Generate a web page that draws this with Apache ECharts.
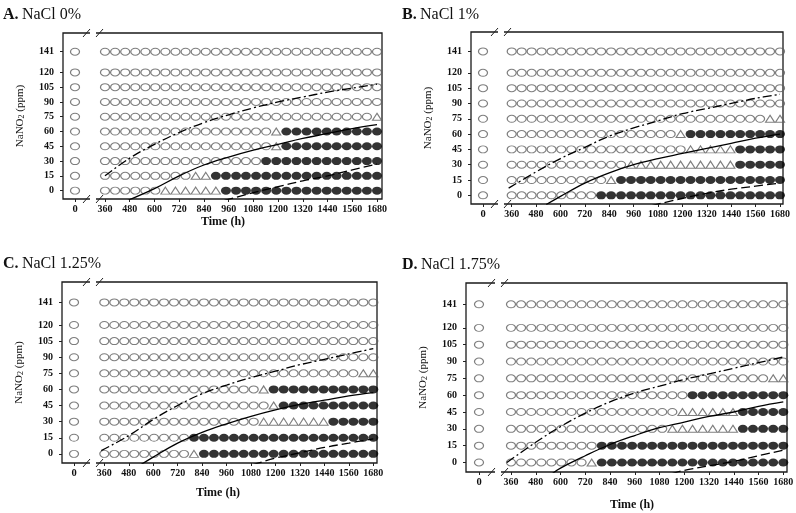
<!DOCTYPE html>
<html><head><meta charset="utf-8">
<script src="https://cdn.jsdelivr.net/npm/echarts@6/dist/echarts.min.js"></script>
<style>html,body{margin:0;padding:0;background:#fff}#c{width:796px;height:513px}</style>
</head><body><div id="c"></div>
<script>
// ---------------- DATA ----------------
// sampling times after the axis break (h)
const timePoints = [360, 409, 458, 507, 556, 604, 653, 702, 751, 800, 849, 898, 947, 996, 1044, 1093, 1142, 1191, 1240, 1289, 1338, 1387, 1436, 1484, 1533, 1582, 1631, 1680];
const startTime = 0; // the column before the break
const nitriteLevels = [0, 15, 30, 45, 60, 75, 90, 105, 120, 141];
const xTickLabels = [360, 480, 600, 720, 840, 960, 1080, 1200, 1320, 1440, 1560, 1680];
const yTickLabels = [0, 15, 30, 45, 60, 75, 90, 105, 120, 141];

// growth status along timePoints for each nitrite level (runs: o = no growth, t = doubtful, f = growth)
const growthA = ['o6 t6 f16', 'o9 t2 f17', 'o16 f12', 'o17 t1 f10', 'o17 t1 f10', 'o27 t1', 'o28', 'o28', 'o28', 'o28'];
const growthB = ['o9 f19', 'o10 t1 f17', 'o12 t11 f5', 'o18 t5 f5', 'o17 t1 f10', 'o26 t2', 'o28', 'o28', 'o28', 'o28'];
const growthC = ['o9 t1 f18', 'o9 f19', 'o16 t7 f5', 'o17 t1 f10', 'o16 t1 f11', 'o26 t2', 'o28', 'o28', 'o28', 'o28'];
const growthD = ['o8 t1 f19', 'o9 f19', 'o16 t7 f5', 'o17 t6 f5', 'o18 f10', 'o26 t2', 'o28', 'o28', 'o28', 'o28'];

// boundary curves [time, ppm]
const dashDotA = [[360,15],[480,33],[600,47],[720,59],[840,69],[960,77],[1080,84],[1200,90],[1320,95],[1440,100],[1560,104],[1680,108]];
const solidA   = [[470,-10],[600,2],[720,15],[840,26],[960,34],[1080,41],[1200,47],[1320,53],[1440,58],[1560,63],[1680,67]];
const dashedA  = [[940,-10],[1080,-2],[1200,4],[1320,10],[1440,15],[1560,21],[1680,27]];

const dashDotB = [[345,7],[480,23],[600,36],[720,47],[840,58],[960,66],[1080,73],[1200,80],[1320,85],[1440,90],[1560,95],[1680,99]];
const solidB   = [[530,-9],[600,-1],[720,12],[840,22],[960,30],[1080,36],[1200,41],[1320,46],[1440,51],[1560,56],[1680,60]];
const dashedB  = [[1050,-10],[1200,-3],[1320,2],[1440,6],[1560,9],[1680,12]];

const dashDotC = [[345,3],[480,17],[600,32],[720,45],[840,56],[960,64],[1080,71],[1200,77],[1320,83],[1440,88],[1560,93],[1680,98]];
const solidC   = [[540,-10],[600,-3],[720,10],[840,20],[960,28],[1080,35],[1200,41],[1320,46],[1440,50],[1560,54],[1680,57]];
const dashedC  = [[1090,-10],[1200,-4],[1320,1],[1440,6],[1560,10],[1680,14]];

const dashDotD = [[340,0],[480,18],[600,32],[720,44],[840,54],[960,62],[1080,68],[1200,74],[1320,79],[1440,84],[1560,89],[1680,94]];
const solidD   = [[560,-10],[600,-5],[720,6],[840,16],[960,24],[1080,31],[1200,36],[1320,41],[1440,45],[1560,50],[1680,54]];
const dashedD  = [[1140,-10],[1200,-7],[1320,-3],[1440,1],[1560,6],[1680,11]];

const panelLetters = ['A.', 'B.', 'C.', 'D.'];
const panelNames = ['NaCl 0%', 'NaCl 1%', 'NaCl 1.25%', 'NaCl 1.75%'];
const yName = ['NaNO', '2', ' (ppm)'];
const xName = 'Time (h)';

// ---------------- LAYOUT / STYLE ----------------
const SERIF = "'Liberation Serif','Times New Roman',serif";
const Y_MIN = -8.5, Y_MAX = 160;
const layout = [
  {l:63,  r:382, t:33,  b:199, brk:93,  x0:75,  p360:105,   p1680:377,   title:[3,7],   time:[223,222], showTime:true},
  {l:471, r:783, t:32,  b:204, brk:501, x0:483, p360:511.7, p1680:780,   title:[402,7], time:[627,228], showTime:false},
  {l:62,  r:377, t:282, b:463, brk:93,  x0:74,  p360:104.3, p1680:373.3, title:[3,256], time:[218,493], showTime:true},
  {l:466, r:787, t:283, b:472, brk:498, x0:479, p360:511,   p1680:783.3, title:[402,257],time:[632,505], showTime:true}
];
const growthSets = [growthA, growthB, growthC, growthD];
const curveSets = [[dashDotA, solidA, dashedA], [dashDotB, solidB, dashedB], [dashDotC, solidC, dashedC], [dashDotD, solidD, dashedD]];

function expandRuns(s) {
  const out = [];
  s.split(' ').forEach(tok => { const k = tok[0], n = +tok.slice(1); for (let i = 0; i < n; i++) out.push(k); });
  return out;
}

const openStyle = {color: 'rgba(255,255,255,0)', borderColor: '#5e5e5e', borderWidth: 1.1};
const grids = [], xAxes = [], yAxes = [], series = [], graphics = [];
const labelStyle = {fontFamily: SERIF, fontWeight: 'bold', color: '#111', formatter: v => String(v)};
const noLine = {show: false, onZero: false};

layout.forEach((P, p) => {
  const g = grids.length;
  const H = P.b - P.t;
  grids.push({left: P.l, top: P.t, width: P.r - P.l, height: H, show: true, borderColor: '#1a1a1a', borderWidth: 1.3, backgroundColor: 'rgba(0,0,0,0)', outerBoundsMode: 'none'});
  grids.push({left: P.l, top: P.t, width: P.brk - P.l, height: H, outerBoundsMode: 'none'});
  grids.push({left: P.brk, top: P.t, width: P.r - P.brk, height: H, outerBoundsMode: 'none'});
  xAxes.push({gridIndex: g, type: 'value', show: false, min: 0, max: 1, axisLine: noLine});
  yAxes.push({gridIndex: g, type: 'value', show: false, min: 0, max: 1, axisLine: noLine});
  // left (time 0) section
  xAxes.push({gridIndex: g + 1, type: 'value', position: 'bottom', min: -(P.x0 - P.l), max: P.brk - P.x0,
    axisLine: noLine, splitLine: {show: false},
    axisTick: {show: true, customValues: [startTime], length: 3, lineStyle: {color: '#222'}},
    axisLabel: Object.assign({customValues: [startTime], margin: 5, fontSize: 10.5}, labelStyle)});
  yAxes.push({gridIndex: g + 1, type: 'value', position: 'left', min: Y_MIN, max: Y_MAX,
    axisLine: noLine, splitLine: {show: false},
    axisTick: {show: true, customValues: yTickLabels, length: 3, lineStyle: {color: '#222'}},
    axisLabel: Object.assign({customValues: yTickLabels, margin: 9, fontSize: 10}, labelStyle),
    name: '{n|' + yName[0] + '}{s|' + yName[1] + '}{n|' + yName[2] + '}', nameLocation: 'middle', nameGap: 37,
    nameTextStyle: {rich: {n: {fontFamily: SERIF, fontSize: 11, color: '#111'}, s: {fontFamily: SERIF, fontSize: 8, color: '#111', verticalAlign: 'bottom', lineHeight: 10}}}});
  // main section
  const s = (P.p1680 - P.p360) / 1320;
  xAxes.push({gridIndex: g + 2, type: 'value', position: 'bottom', min: 360 - (P.p360 - P.brk) / s, max: 1680 + (P.r - P.p1680) / s,
    axisLine: noLine, splitLine: {show: false},
    axisTick: {show: true, customValues: xTickLabels, length: 3, lineStyle: {color: '#222'}},
    axisLabel: Object.assign({customValues: xTickLabels, margin: 5, fontSize: 10}, labelStyle)});
  yAxes.push({gridIndex: g + 2, type: 'value', min: Y_MIN, max: Y_MAX, show: false, axisLine: noLine});

  const open0 = [], open = [], tri = [], fill = [];
  growthSets[p].forEach((runs, li) => {
    const lvl = nitriteLevels[li];
    open0.push([startTime, lvl]);
    expandRuns(runs).forEach((k, j) => {
      const pt = [timePoints[j], lvl];
      if (k === 'o') open.push(pt); else if (k === 't') tri.push(pt); else fill.push(pt);
    });
  });
  const common = {type: 'scatter', silent: true, emphasis: {disabled: true}};
  series.push(Object.assign({xAxisIndex: g + 1, yAxisIndex: g + 1, data: open0, symbol: 'circle', symbolSize: [9, 7], itemStyle: openStyle}, common));
  series.push(Object.assign({xAxisIndex: g + 2, yAxisIndex: g + 2, data: open, symbol: 'circle', symbolSize: [9, 7], itemStyle: openStyle}, common));
  series.push(Object.assign({xAxisIndex: g + 2, yAxisIndex: g + 2, data: tri, symbol: 'triangle', symbolSize: [9, 7], itemStyle: openStyle}, common));
  series.push(Object.assign({xAxisIndex: g + 2, yAxisIndex: g + 2, data: fill, symbol: 'circle', symbolSize: [10, 8], itemStyle: {color: '#000'}}, common));
  const dashes = [[9, 3, 2, 3], 'solid', [9, 4]];
  curveSets[p].forEach((c, ci) => {
    series.push({type: 'line', xAxisIndex: g + 2, yAxisIndex: g + 2, data: c, smooth: 0.4, showSymbol: false, silent: true, clip: true, z: 5,
      lineStyle: {color: '#000', width: 1.3, type: dashes[ci]}});
  });

  // panel title and axis title
  graphics.push({type: 'text', x: P.title[0], y: P.title[1], style: {text: '{b|' + panelLetters[p] + '} {r|' + panelNames[p] + '}',
    rich: {b: {fontFamily: SERIF, fontWeight: 'bold', fontSize: 16, fill: '#111'}, r: {fontFamily: SERIF, fontSize: 16, fill: '#111'}}}});
  if (P.showTime) graphics.push({type: 'text', x: P.time[0], y: P.time[1], style: {text: xName, font: 'bold 12px ' + SERIF, fill: '#111', textAlign: 'center', textVerticalAlign: 'middle'}});
  // axis-break marks
  [P.t, P.b].forEach(yy => {
    graphics.push({type: 'rect', shape: {x: P.brk - 3, y: yy - 2, width: 6, height: 4}, style: {fill: '#fff'}, z: 100});
    graphics.push({type: 'line', shape: {x1: P.brk - 10, y1: yy + 4, x2: P.brk - 3, y2: yy - 4}, style: {stroke: '#222', lineWidth: 1}, z: 101});
    graphics.push({type: 'line', shape: {x1: P.brk + 3, y1: yy + 4, x2: P.brk + 10, y2: yy - 4}, style: {stroke: '#222', lineWidth: 1}, z: 101});
  });
});

const chart = echarts.init(document.getElementById('c'), null, {renderer: 'canvas'});
chart.setOption({animation: false, backgroundColor: '#fff', grid: grids, xAxis: xAxes, yAxis: yAxes, series: series, graphic: graphics});
</script></body></html>
